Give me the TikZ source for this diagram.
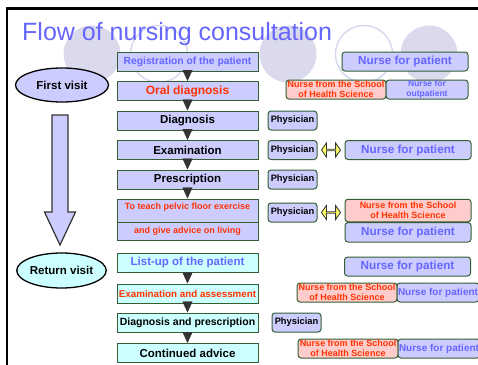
\documentclass[tikz,border=0pt]{standalone}
\usepackage{fontspec}
\setmainfont{Liberation Sans}
\usetikzlibrary{arrows.meta}
\usetikzlibrary{shapes}
\usetikzlibrary{calc}
\definecolor{LavFill}{RGB}{204,204,255}
\definecolor{CyanFill}{RGB}{204,255,255}
\definecolor{PinkFill}{RGB}{255,204,204}
\definecolor{BoxLine}{RGB}{51,95,51}
\definecolor{TxtRed}{RGB}{255,51,0}
\definecolor{TxtBlue}{RGB}{102,102,255}
\definecolor{DecoFill}{RGB}{218,218,236}
\definecolor{DecoLine}{RGB}{216,216,240}
\definecolor{TipGray}{RGB}{51,51,51}
\definecolor{LinkYellow}{RGB}{255,255,102}
\tikzstyle{StepNode}=[rectangle, draw=BoxLine, fill=LavFill, line width=1pt, minimum width=141pt, minimum height=19pt, inner sep=0pt, font=\bfseries\fontsize{11.5}{12}\selectfont]
\tikzstyle{ReturnStepNode}=[StepNode, fill=CyanFill]
\tikzstyle{PhysNode}=[rectangle, rounded corners=3pt, draw=BoxLine, fill=LavFill, line width=1pt, minimum width=49pt, minimum height=19pt, inner sep=0pt, font=\bfseries\fontsize{9.3}{10}\selectfont]
\tikzstyle{NurseNode}=[PhysNode, minimum width=126pt, text=TxtBlue, font=\bfseries\fontsize{11.7}{12}\selectfont]
\tikzstyle{SmallNurseNode}=[NurseNode, minimum width=82pt, font=\bfseries\fontsize{10}{11}\selectfont]
\tikzstyle{SchoolNode}=[PhysNode, fill=PinkFill, text=TxtRed, minimum width=100pt, align=center, font=\bfseries\fontsize{9}{10.5}\selectfont]
\tikzstyle{VisitNode}=[ellipse, draw=black, line width=1.3pt, fill=LavFill, inner sep=0pt, font=\bfseries\fontsize{11.5}{12}\selectfont]
\tikzstyle{FlowEdge}=[-{Triangle[length=11pt, width=10pt]}, draw=TipGray, line width=0.4pt]
\tikzstyle{LinkArrow}=[double arrow, draw=TipGray, fill=LinkYellow, line width=0.8pt, minimum width=14pt, minimum height=19pt, double arrow head extend=3.5pt, double arrow tip angle=110, inner sep=0pt]
\tikzstyle{BigArrow}=[draw=TipGray, fill=LavFill, line width=1.2pt, line join=miter]

\begin{document}
\begin{tikzpicture}[x=1pt, y=-1pt]
\useasboundingbox (0,0) rectangle (478,364);
\draw[line width=2.7pt] (490,8.7) -- (7,8.7) -- (7,380);

% background circles
\fill[DecoFill] (92,54) circle (28.5pt);
\draw[DecoLine, line width=1.5pt] (159,54) circle (28.5pt);
\fill[DecoFill] (288,54) circle (28.5pt);
\draw[DecoLine, line width=1.5pt] (364,54) circle (28.5pt);
\fill[DecoFill] (429,54) circle (28.5pt);

\node[anchor=base west, text=TxtBlue, inner sep=0pt, font=\fontsize{25}{28}\selectfont] (TITLE) at (22,40) {Flow of nursing consultation};

\node[VisitNode, minimum width=93pt, minimum height=34pt] (FIRST) at (62,85) {First visit};
\node[VisitNode, fill=CyanFill, minimum width=89pt, minimum height=35pt] (RETURN) at (61.5,270.5) {Return visit};
\draw[BigArrow] (52,115) -- (68,115) -- (68,212) -- (75.5,212) -- (60,245) -- (44.5,212) -- (52,212) -- cycle;

\node[StepNode, text=TxtBlue, font=\bfseries\fontsize{10.3}{11}\selectfont](REG) at (187.5,61.5) {Registration of the patient};
\node[StepNode, text=TxtRed, font=\bfseries\fontsize{12}{13}\selectfont](ORAL) at (187.5,91) {Oral diagnosis};
\node[StepNode](DIAG) at (187.5,120.5) {Diagnosis};
\node[StepNode](EXAM) at (187.5,150) {Examination};
\node[StepNode](PRES) at (187.5,179.5) {Prescription};
\node[StepNode, text=TxtRed, minimum height=23pt, text height=7pt, text depth=9.6pt, font=\bfseries\fontsize{9}{10}\selectfont](TEACHA) at (187.5,210.5) {To teach pelvic floor exercise};
\node[StepNode, text=TxtRed, minimum height=18.5pt, font=\bfseries\fontsize{9}{10}\selectfont](TEACHB) at (187.5,231.25) {and give advice on living};
\node[ReturnStepNode, text=TxtBlue](LIST) at (187.5,262.5) {List-up of the patient};
\node[ReturnStepNode, text=TxtRed, font=\bfseries\fontsize{9.8}{11}\selectfont](EXAS) at (187.5,293.5) {Examination and assessment};
\node[ReturnStepNode, font=\bfseries\fontsize{10.5}{11}\selectfont](DXPR) at (187.5,322.5) {Diagnosis and prescription};
\node[ReturnStepNode](CONT) at (187.5,353) {Continued advice};

\draw[FlowEdge](REG) -- (ORAL);
\draw[FlowEdge](ORAL) -- (DIAG);
\draw[FlowEdge](DIAG) -- (EXAM);
\draw[FlowEdge](EXAM) -- (PRES);
\draw[FlowEdge](PRES) -- (TEACHA);
\draw[FlowEdge](LIST) -- (EXAS);
\draw[FlowEdge](EXAS) -- (DXPR);
\draw[FlowEdge](DXPR) -- (CONT);

\node[NurseNode](NPA) at (405,61.5) {Nurse for patient};
\node[SchoolNode](SCHA) at (336,89.5) {Nurse from the School\\of Health Science};
\node[SmallNurseNode, align=center, font=\bfseries\fontsize{8.5}{10.5}\selectfont](OUTA) at (427,89.5) {Nurse for\\outpatient};
\node[PhysNode](PHYA) at (292.5,120.5) {Physician};
\node[PhysNode](PHYB) at (292.5,150) {Physician};
\node[NurseNode](NPB) at (408,150) {Nurse for patient};
\node[PhysNode](PHYC) at (292.5,179.5) {Physician};
\node[PhysNode](PHYD) at (292.5,212.5) {Physician};
\node[SchoolNode, minimum width=126pt, minimum height=22.5pt](SCHD) at (408,210.5) {Nurse from the School\\of Health Science};
\node[NurseNode, minimum height=19.5pt](NPD) at (408,232.3) {Nurse for patient};
\node[NurseNode](NPE) at (407.5,266.5) {Nurse for patient};
\node[SchoolNode](SCHF) at (347,292.5) {Nurse from the School\\of Health Science};
\node[SmallNurseNode](NPF) at (438,292.5) {Nurse for patient};
\node[PhysNode](PHYG) at (296.5,322.5) {Physician};
\node[SchoolNode](SCHH) at (348,348.5) {Nurse from the School\\of Health Science};
\node[SmallNurseNode](NPH) at (439,348.5) {Nurse for patient};

\node[LinkArrow](LNKB) at ($(PHYB.east)!0.5!(NPB.west)$) {};
\node[LinkArrow](LNKD) at ($(PHYD.east)!0.5!(PHYD.east -| SCHD.west)$) {};

\end{tikzpicture}
\end{document}
